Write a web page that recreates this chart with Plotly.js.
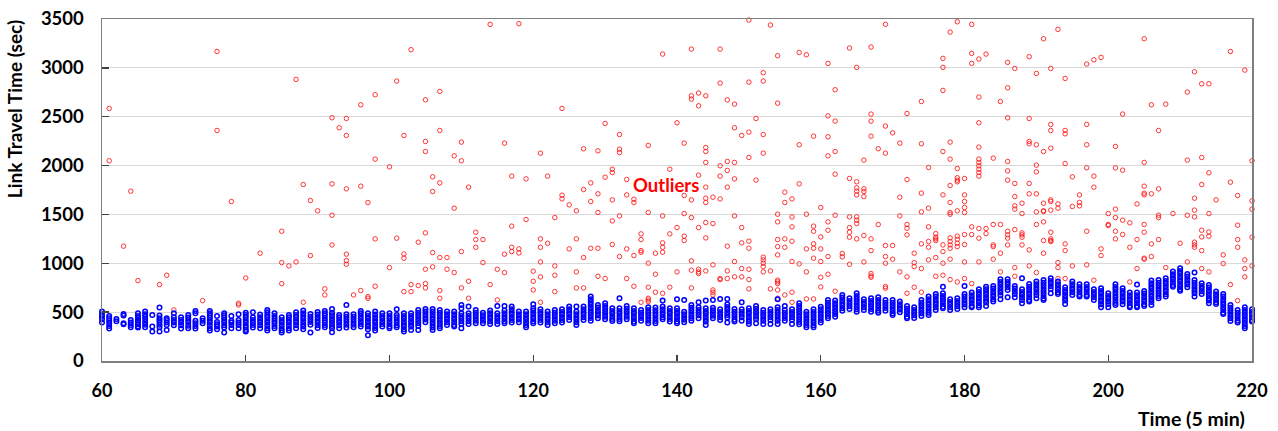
<!DOCTYPE html>
<html>
<head>
<meta charset="utf-8">
<script src="https://cdn.plot.ly/plotly-3.0.1.min.js"></script>
<style>html,body{margin:0;padding:0;background:#fff;}#chart{width:1278px;height:431px;}</style>
</head>
<body>
<div id="chart"></div>
<script>
// ---- Data ----
const xTicks = [60, 80, 100, 120, 140, 160, 180, 200, 220];
const yTicks = [0, 500, 1000, 1500, 2000, 2500, 3000, 3500];

// Normal link travel times (blue), one list of values per time step 60..220
const normalFirstStep = 60;
const normalValues = [
[506,478,454,427,393],[461,437,413,386,359,332],[431,407],[482,465,386,376],[420,393,369,345],
[489,461,441,420,400,376,352,342],[506,478,454,427,400,372,345],[471,352,301],[547,465,437,420,400,372,345,301],[437,420,393,369,318],
[489,448,420,393,366],[448,420,393,366,332],[471,444,420,393,362,335],[512,489,413,386,359,332],[437,413,386],
[512,489,468,444,420,393,366,335,311],[461,400,376,352,325],[489,468,444,420,393,366,342,291],[461,413,393,369,335],[478,420,393,369,335],
[495,471,448,420,393,366,342,318,301],[499,448,420,393,369,342],[475,448,420,393,366,335],[523,499,471,448,420,393,366,335,311],[489,461,434,410,386,359,335],
[448,420,393,366,335,311,291],[471,448,420,393,366,335,311],[499,471,448,420,393,366,335],[516,489,461,434,407,379,352,325],[482,454,427,400,372,291],
[502,475,448,420,393,366,338],[512,489,465,441,417,393,369,345],[533,495,468,441,413,386,359,335,294],[471,448,420,393,366,335],[574,478,454,427,400,372,342],
[478,454,427,400,372,345],[512,489,461,434,407,379,352],[489,461,434,407,379,352,325,263],[506,475,448,420,393,366,338,311],[489,461,434,407,379,352],
[489,461,434,407,379,352,335],[530,471,448,420,393,366,345],[489,461,434,407,379,352,325,301],[489,461,434,407,379,352,318],[523,495,468,441,413,386,359,318],
[533,506,478,451,424,397],[533,506,478,451,424,397,369,342,318],[523,495,468,441,413,386,359,335],[506,478,451,424,397,369],[506,478,451,424,397,369,352],
[574,540,489,461,434,407,379,335],[557,489,461,434,407,379],[523,495,468,441,413,386],[495,468,441,413,386],[516,489,461,434,407,379],
[564,489,461,434,407,379],[564,516,489,461,434,407,386],[557,530,502,475,448,420,393],[506,478,451,424,397],[506,478,451,424,397,369,345],
[581,540,516,489,461,434,407,386],[530,502,475,448,420,393],[506,478,451,424,397,369],[523,495,468,441,413,386],[530,502,475,448,420,393],
[557,530,502,475,448,420],[557,506,478,451,424,397,369],[557,530,502,475,448,420],[659,632,605,577,550,523,495,468,441,413],[574,547,519,492,465,437],
[591,564,536,509,482,454,427],[540,512,485,458,431,410],[642,540,512,485,458,431,407],[564,536,509,482,454,427],[540,512,485,458,431,403,386],
[523,495,468,441,413],[550,523,495,468,441,413,386],[547,519,492,465,437,410,386],[618,557,530,502,475,448,427],[540,512,485,458,431,403],
[632,540,512,485,458,431,403,386],[625,505,478,451,423,396],[574,546,519,492,464,437,413],[601,550,522,495,468,437],[618,539,512,485,457,430,403,369],
[625,546,519,492,464,437],[635,529,502,474,447,420],[635,580,553,526,498,471,444,393],[533,505,478,451,423,403],[601,529,502,474,447,413],
[539,512,485,457,430,403,379],[563,536,509,481,454,427,386],[522,495,468,440,413,379],[529,502,474,447,420,379],[632,550,522,495,468,440,413,379],
[563,522,495,468,440,413],[529,502,474,447,420,379],[591,563,536,509,481,454,427,399,376],[505,478,451,423,396,369,345],[529,502,474,447,420,393,365,345],
[556,529,502,474,447,420,393],[625,597,570,543,515,488,461,437],[618,591,563,536,509,481,454],[676,649,621,594,567,539,515],[642,615,587,560,533],
[693,666,638,611,584,556,529,505],[632,604,577,550,522],[642,615,587,560,533,505],[652,625,597,570,543,515,495],[625,597,570,543,515],
[625,597,570,543,515,488,471],[608,580,553,526,498],[563,536,509,481,454,437],[550,522,495,468,440],[625,597,570,543,515,488,461],
[659,632,604,577,550,522,495,471],[686,659,632,604,577,550,522],[761,693,666,638,611,584,556,539],[632,604,577,550,522],[642,615,587,560,533],
[768,686,659,632,604,577,550],[700,673,645,618,591,563,550],[734,707,680,652,625,598,570,550],[761,734,707,680,652,625,598,563],[768,741,714,686,659,632,608],
[837,809,782,755,727,700,673,632],[837,809,782,755,727,652],[768,741,714,686,652],[847,734,707,680,652,625,591],[789,761,734,707,680,652,625,608],
[813,785,758,731,703,676,642],[830,802,775,748,720,693,666,639,625],[847,819,792,765,737,693],[813,785,758,731,703,686],[755,727,700,673,645,618,584],
[813,785,758,731,703,676],[785,758,731,703,676,659],[785,758,731,703,676,659],[734,707,680,652,625],[744,717,690,662,635,608,581,550],
[693,666,639,611,584,550],[785,758,731,703,676,649,621,594,574],[744,717,690,662,635,608,581],[700,673,645,618,591,563,550],[782,700,673,645,618,591,563,550],
[717,690,662,635,608,581,563],[823,796,768,741,714,686,659,632,604,574],[830,802,775,748,720,693,666,642],[847,819,792,765,737,710,683,659],[915,888,860,833,806,778,761],
[949,922,895,867,840,813,785,758,734,720],[891,864,837,809,782,755],[905,830,802,775,748,720,693,659],[796,768,741,714,686],[779,751,724,697,669,642,618,591],
[710,683,656,628,601,584],[686,659,632,604,577,550,522,495,481],[574,546,519,491,464,437,410],[522,495,468,441,413,393],[550,522,495,468,441,413,386,359,335],
[529,502,475,447,420,403]
];

// Outliers (red): time steps and their travel times
const outlierSteps = [61,63,64,65,68,69,70,74,76,78,79,80,82,85,86,87,88,89,90,91,92,93,94,95,96,97,98,100,101,102,103,104,105,106,107,108,109,110,111,112,113,114,115,116,117,118,119,120,121,122,123,124,125,126,127,128,129,130,131,132,133,134,135,136,137,138,139,140,141,142,143,144,145,146,147,148,149,150,151,152,153,154,155,156,157,158,159,160,161,162,163,164,165,166,167,168,169,170,171,172,173,174,175,176,177,178,179,180,181,182,183,184,185,186,187,188,189,190,191,192,193,194,195,196,197,198,199,200,201,202,203,204,205,206,207,208,209,210,211,212,213,214,215,216,217,218,219,220];
const outlierValues = [
[2585,2049],[1175],[1738],[823],[782],[878],[523],[618],[3168,2359],[1632],[591,574],[850],[1103],[1328,1007,792],[973],[2882,1014],[1806,601],[1642,1079],[1537],[738,676],
[2489,1813,1492,1188],[2387],[2482,2308,1762,1093,1028,990],[676],[2622,1789,721],[1622,659,642],[2725,2066,1250,765],[1987,956],[2865,1257],[2308,1096,1052,710],
[3186,782,710],[1216,772],[2673,2247,2144,1311,939,792,748],[1885,1735,1110,963],[2759,2359,1823,1059,721,642],[1059,939],[2100,1564,905],[2240,2049,1120,748],[1779,816,642],[1318,1243,1164],
[1243,1007],[3445,782],[939,625],[2230,1093,905],[1892,1380,1164,1120],[3452,1147,1106],[1864,1448],[919,816,727],[2127,1250,1164,1014,861,601],[1892,1205],
[1468,973,878,710],[2585,1697,1659],[1598,1147],[1537,1250,912,748],[2172,1755,1059,748],[1823,1632,1154],[2151,1711,1520,1154,867],[2431,1881,844],[1963,1929,1649,1434,1192],[2318,2168,2134,1485,1069],
[1857,1700,1147,844],[1656,1622,1079,765],[1301,1243,1130,1113,601],[2206,1520,1001,755,642,625,608],[1103,888,704],[3141,1485,1209,1164,1113,693],[1963,1301,755],[2438,1366,912],[2230,1694,1509,1277,1233],[3192,2714,2680,1649,1468,1025,929,748],
[2742,2612,1902,1366,939,912,895],[2714,2185,2144,2032,1779,1666,1622,1417,1260,922],[1676,1407,984,727,704,676],[3192,2844,1998,1892,1659,844,833],[2673,2042,1950,1779,1175,922,844],[2629,2387,2032,1864,1485,1018,861],[2308,1366,1209,946,861],[3489,2854,2342,2083,1226,1154,939,833,738],[2482,1851],[2950,2865,2318,2127,1062,1035,1001,966,912],
[3438,922,738],[3124,2639,1502,1424,1243,1171,1086,827,810,792,727,642],[1728,1622,1250,1164,676],[1659,1475,1373,1226,1018,704,601],[3158,2213,1813,994],[3134,1502,1147,912,635],[2301,1380,1328,1199,1154,1052,635],[1571,1270,1147,1018,857,758],[3046,2509,2294,2100,1424,1338,1069,888],[2776,2455,2144,1912,1492,714],
[1100,1066],[3203,1868,1475,1366,1318,1267,990],[3005,1834,1772,1738,1700,1475,1441,1407,1250],[2056,1762,1735,1683,1284,1014],[3213,2527,2455,2301,1250,1130,895,871,857],[2172,1397],[3445,2404,2127,1182,1069,1001,762,745],[2335,1182,1042],[2230,1676,1485,912],[2533,1857,1397,1359,1291,861,693],
[1103,1007,966,755],[2656,2223,1718,1526,1199,946,704],[1980,1564,1373,1223,1164,1035],[1304,1267,1250,1233,1059,867],[3097,3005,2769,2144,1700,1188,1120,1001,878],[3366,2240,2066,1796,1622,1520,1502,1260,1223,1188,1154,1042,833],[3472,1970,1875,1851,1834,1537,1277,1246,1205,1171,809],[1868,1700,1632,1571,1520,1294,1192,1014,844],[3445,3148,3046,1373,1294,792],[3090,2701,2438,2189,2066,2032,1998,1963,1929,1892,1356,1257,1014],
[3141,1356,1304],[2076,1397,1188,1171,1042],[2656,1397,1103,912],[3056,2796,2489,2042,1946,1851,1328,1291,1257,1188],[2994,1817,1683,1588,1554,1345,956,867],[1615,1509,1311,1291,1267,1188],[3114,2482,2247,2223,1817,1711,1137,973],[2943,2213,2004,1936,1711,1526,1397,905],[3298,2144,1615,1537,1530,1424,1233,1103],[2994,2421,2359,2178,1649,1632,1544,1318,1250,1233,1223],
[3394,1608,1564,1007,956,844],[2892,2359,2325,2021,1199,1130,844],[1885,1581,973],[1700,1622,1588],[3039,2421,2213,1977,1328,984],[3083,1892,1779,827],[3107,1147,1079],[1509,1397,1386],[2196,1977,1554,1468,1328,1250],[2527,1953,1441,1294],
[1414,1164,809],[1608,1243,946],[3298,2032,1789,1717,1700,1397,1318,1052,1042],[2622,1711,1199,1069],[2359,1762,1492,1468,1243],[2629,956],[1509],[1205],[2752,2056,1492,1014],[2960,1666,1544,1475,1216,1188,1164],
[2837,2083,1806,1338,1270,1130,946],[2837,1926,1509,1321,1277,912],[1649],[1086,997],[3168,1830,782],[1694,1390,1243,1164,618],[2977,1035,946,861],[2049,1639,1554,1267,973]
];

// ---- Build traces ----
const nx = [], ny = [];
normalValues.forEach((col, i) => col.forEach(v => { nx.push(normalFirstStep + i); ny.push(v); }));
const ox = [], oy = [];
outlierValues.forEach((col, i) => col.forEach(v => { ox.push(outlierSteps[i]); oy.push(v); }));

const FONT = 'Lato, "Open Sans", "DejaVu Sans", sans-serif';

const traces = [
  {x: ox, y: oy, type: 'scatter', mode: 'markers', cliponaxis: false, hoverinfo: 'x+y',
   marker: {symbol: 'circle-open', size: 4.5, color: 'rgba(255,20,20,0.85)', line: {width: 1, color: 'rgba(255,20,20,0.85)'}}},
  {x: nx, y: ny, type: 'scatter', mode: 'markers', cliponaxis: false, hoverinfo: 'x+y',
   marker: {symbol: 'circle-open', size: 4.5, color: '#0000ff', line: {width: 1.5, color: '#0000ff'}}}
];

const layout = {
  width: 1278, height: 431,
  margin: {l: 102, r: 26, t: 19, b: 70, pad: 0},
  paper_bgcolor: '#ffffff', plot_bgcolor: '#ffffff',
  showlegend: false,
  font: {family: FONT, color: '#000000'},
  xaxis: {
    range: [60, 220], tickmode: 'array', tickvals: xTicks, ticktext: xTicks.map(String),
    ticks: 'inside', ticklen: 6, tickwidth: 1.3, tickcolor: '#404040',
    showline: true, linecolor: '#7f7f7f', linewidth: 1.5, mirror: true,
    showgrid: false, zeroline: false,
    ticklabelstandoff: 13,
    tickfont: {family: FONT, size: 18, weight: 700, color: '#000'}
  },
  yaxis: {
    range: [0, 3500], tickmode: 'array', tickvals: yTicks, ticktext: yTicks.map(String),
    ticks: 'inside', ticklen: 7, tickwidth: 1.3, tickcolor: '#404040',
    showline: true, linecolor: '#7f7f7f', linewidth: 1.5, mirror: true,
    showgrid: true, gridcolor: '#d9d9d9', gridwidth: 1, zeroline: false,
    ticklabelstandoff: 13,
    tickfont: {family: FONT, size: 18.5, weight: 700, color: '#000'}
  },
  annotations: [
    {text: 'Link Travel Time (sec)', xref: 'paper', yref: 'paper', x: -0.076, y: 0.735,
     xanchor: 'center', yanchor: 'middle', textangle: -90, showarrow: false,
     font: {family: FONT, size: 19, weight: 700, color: '#000'}},
    {text: 'Time (5 min)', xref: 'paper', yref: 'paper', x: 0.9957, y: -0.167,
     xanchor: 'right', yanchor: 'middle', showarrow: false,
     font: {family: FONT, size: 19.5, weight: 700, color: '#000'}},
    {text: 'Outliers', xref: 'x', yref: 'y', x: 138.4, y: 1800,
     xanchor: 'center', yanchor: 'middle', showarrow: false,
     font: {family: FONT, size: 18.5, weight: 700, color: '#ff0000'}}
  ]
};

Plotly.newPlot('chart', traces, layout, {displayModeBar: false, staticPlot: true});
</script>
</body>
</html>
